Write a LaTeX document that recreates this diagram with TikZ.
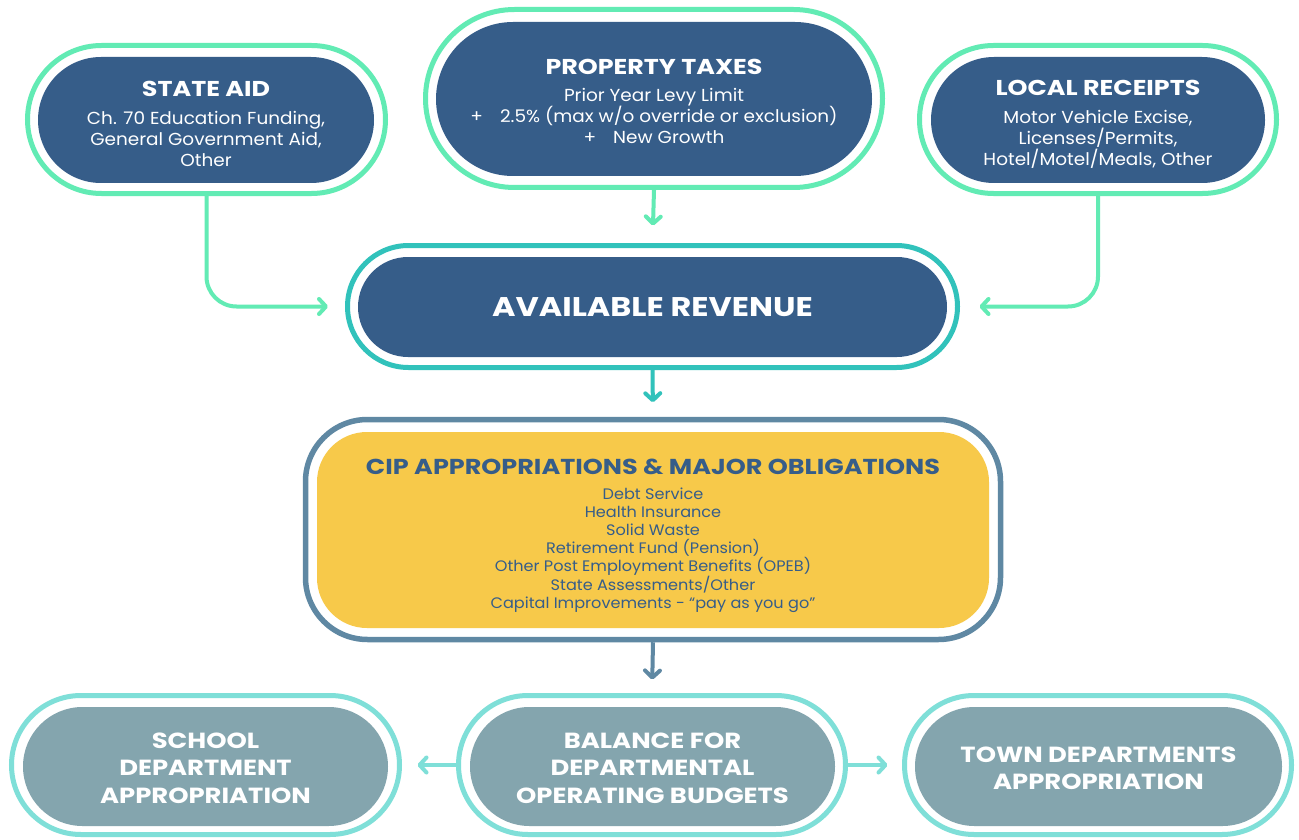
\documentclass[tikz,border=0pt]{standalone}
\usepackage{fontspec}
\setmainfont{Poppins}[FakeStretch=1.06, BoldFeatures={FakeStretch=1.18}]
\usetikzlibrary{arrows.meta}
\definecolor{navy}{HTML}{365D89}
\definecolor{mint}{HTML}{62EBB4}
\definecolor{tealring}{HTML}{31C2BB}
\definecolor{steel}{HTML}{5F88A3}
\definecolor{gold}{HTML}{F7C94A}
\definecolor{slate}{HTML}{84A5AE}
\definecolor{aqua}{HTML}{7FDFD8}
\newcommand\hdfont{\fontsize{21.5}{25}\selectfont\bfseries}
\newcommand\bdfont{\fontsize{17.4}{21}\selectfont}
\newcommand\arfont{\fontsize{27}{32}\selectfont\bfseries}
\newcommand\ciphd{\fontsize{21.6}{26}\selectfont\bfseries}
\newcommand\cipbd{\fontsize{15.2}{18}\selectfont}
\newcommand\botfont{\fontsize{21.9}{27.5}\selectfont\bfseries}
\tikzset{
  ring/.style={draw, line width=5pt, fill=white, inner sep=0pt},
  pill/.style={inner sep=0pt, align=center, text=white},
  conn/.style={line width=4pt, -{Straight Barb[length=7pt,width=15pt,round]}},
}
\begin{document}
\begin{tikzpicture}[x=1pt,y=-1pt]
\useasboundingbox[fill=white] (0,0) rectangle (1299,840);

% rings
\node[ring, draw=mint, minimum width=358pt, minimum height=148pt, rounded corners=74pt] (saring) at (206.5,119.5) {};
\node[ring, draw=mint, minimum width=457pt, minimum height=178pt, rounded corners=89pt] (ptring) at (654,98.5) {};
\node[ring, draw=mint, minimum width=357pt, minimum height=148pt, rounded corners=74pt] (lrring) at (1098,119.5) {};
\node[ring, draw=tealring, minimum width=610pt, minimum height=122pt, rounded corners=61pt] (arring) at (652.5,306.5) {};
\node[ring, draw=steel, line width=5.5pt, minimum width=695pt, minimum height=220pt, rounded corners=62pt] (cipring) at (653,529.5) {};
\node[ring, draw=aqua, minimum width=388pt, minimum height=139pt, rounded corners=69.5pt] (scring) at (205.5,765) {};
\node[ring, draw=aqua, minimum width=387pt, minimum height=139pt, rounded corners=69.5pt] (baring) at (652,765) {};
\node[ring, draw=aqua, minimum width=387pt, minimum height=139pt, rounded corners=69.5pt] (toring) at (1098,765) {};

% fills
\node[pill, fill=navy, minimum width=336pt, minimum height=126pt, rounded corners=63pt] (sa) at (206,120) {};
\node[pill, fill=navy, minimum width=436pt, minimum height=154pt, rounded corners=77pt] (pt) at (654,99) {};
\node[pill, fill=navy, minimum width=334pt, minimum height=126pt, rounded corners=63pt] (lr) at (1098,120) {};
\node[pill, fill=navy, minimum width=589pt, minimum height=100pt, rounded corners=50pt] (ar) at (652.5,307) {};
\node[pill, fill=gold, minimum width=672pt, minimum height=196pt, rounded corners=50pt] (cip) at (653,530) {};
\node[pill, fill=slate, minimum width=365pt, minimum height=119pt, rounded corners=59.5pt] (sc) at (205.5,766.5) {};
\node[pill, fill=slate, minimum width=365pt, minimum height=119pt, rounded corners=59.5pt] (ba) at (652.5,766.5) {};
\node[pill, fill=slate, minimum width=367pt, minimum height=119pt, rounded corners=59.5pt] (to) at (1098.5,766.5) {};

% texts
\node[pill, font=\bdfont] (satxt) at (206,124)
  {{\hdfont STATE AID}\\[7pt]Ch. 70 Education Funding,\\General Government Aid,\\Other};
\node[pill, font=\bdfont] (pttxt) at (654,101.5)
  {{\hdfont PROPERTY TAXES}\\[6pt]Prior Year Levy Limit\\+\hspace{17pt}2.5\% (max w/o override or exclusion)\\+\hspace{17pt}New Growth};
\node[pill, font=\bdfont] (lrtxt) at (1098,124)
  {{\hdfont LOCAL RECEIPTS}\\[7pt]Motor Vehicle Excise,\\Licenses/Permits,\\Hotel/Motel/Meals, Other};
\node[pill, font=\arfont] (artxt) at (652.5,307) {AVAILABLE REVENUE};
\node[pill, text=navy, font=\cipbd] (ciptxt) at (653,535.5)
  {{\ciphd CIP APPROPRIATIONS \& MAJOR OBLIGATIONS}\\[7pt]Debt Service\\Health Insurance\\Solid Waste\\Retirement Fund (Pension)\\Other Post Employment Benefits (OPEB)\\State Assessments/Other\\Capital Improvements - “pay as you go”};
\node[pill, font=\botfont] (sctxt) at (205.5,768) {SCHOOL\\DEPARTMENT\\APPROPRIATION};
\node[pill, font=\botfont] (batxt) at (652.5,768) {BALANCE FOR\\DEPARTMENTAL\\OPERATING BUDGETS};
\node[pill, font=\botfont] (totxt) at (1098.5,768.5) {TOWN DEPARTMENTS\\APPROPRIATION};

% connectors
\draw[conn, mint, rounded corners=30pt, shorten >=17pt] (saring.south) |- (arring.west);
\draw[conn, mint, rounded corners=30pt, shorten >=19.5pt] (lrring.south) |- (arring.east);
\draw[conn, mint, shorten >=17.5pt] (ptring.south) -- (arring.north);
\draw[conn, tealring, shorten >=14.5pt] (arring.south) -- (cipring.north);
\draw[conn, steel, shorten >=13.5pt] (cipring.south) -- (baring.north);
\draw[conn, aqua, shorten >=15.5pt] (baring.west) -- (scring.east);
\draw[conn, aqua, shorten >=14.5pt] (baring.east) -- (toring.west);
\end{tikzpicture}
\end{document}
